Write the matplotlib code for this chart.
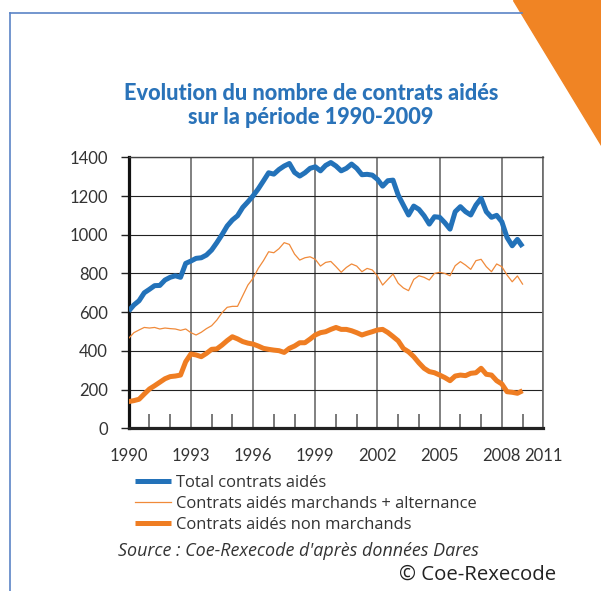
import numpy as np
import matplotlib.pyplot as plt
from matplotlib.lines import Line2D
from matplotlib.patches import Polygon

plt.rcParams['font.family'] = ['Lato', 'DejaVu Sans']

# quarterly values (thousands), 1990 Q1 -> 2009 Q1
total = [606, 637, 659, 700, 718, 737, 738, 766, 780, 788, 780, 852,
         864, 878, 881, 895, 921, 959, 1000, 1045, 1076, 1098, 1141, 1170,
         1201, 1237, 1278, 1320, 1313, 1337, 1355, 1368, 1322, 1303, 1320, 1343,
         1351, 1330, 1358, 1373, 1355, 1330, 1343, 1365, 1343, 1310, 1312, 1308,
         1286, 1251, 1279, 1282, 1205, 1153, 1102, 1148, 1131, 1098, 1055, 1093,
         1090, 1062, 1029, 1119, 1145, 1119, 1102, 1153, 1188, 1119, 1090, 1100,
         1067, 986, 943, 976, 938]
marchands = [465, 494, 508, 521, 518, 521, 513, 518, 515, 513, 506, 513,
             494, 482, 496, 515, 530, 559, 597, 625, 630, 630, 685, 740,
             775, 826, 866, 912, 907, 928, 959, 950, 900, 869, 881, 886,
             873, 838, 857, 862, 835, 806, 831, 849, 838, 809, 826, 818,
             787, 740, 769, 797, 749, 725, 711, 769, 788, 780, 766, 800,
             806, 800, 788, 840, 861, 843, 821, 866, 873, 835, 809, 849,
             835, 792, 757, 787, 745]
non_marchands = [138, 143, 150, 177, 203, 220, 238, 256, 267, 270, 275, 344,
                 384, 379, 370, 387, 408, 410, 430, 453, 473, 462, 448, 440,
                 435, 425, 413, 408, 404, 401, 392, 413, 425, 442, 442, 461,
                 482, 494, 499, 511, 521, 511, 511, 504, 494, 482, 491, 499,
                 508, 511, 495, 474, 452, 412, 395, 370, 338, 310, 293, 287,
                 275, 262, 246, 270, 275, 272, 284, 287, 310, 279, 275, 246,
                 229, 189, 186, 181, 194]
quarters = 1990 + np.arange(len(total)) / 4

tick_years = [1990, 1993, 1996, 1999, 2002, 2005, 2008, 2010]
tick_labels = ['1990', '1993', '1996', '1999', '2002', '2005', '2008', '2011']
series_labels = ['Total contrats aidés',
                 'Contrats aidés marchands + alternance',
                 'Contrats aidés non marchands']

W, H = 601, 591
def fx(px):
    return px / W
def fy(py):
    return 1 - py / H

blue = '#2372b9'
orange = '#ef7d22'
text_font = ['Open Sans', 'DejaVu Sans']

fig = plt.figure(figsize=(6.01, 5.91), dpi=100)

# frame decoration
fig.add_artist(Line2D([fx(10), fx(10)], [fy(13), fy(591)], color='#5b84c6', lw=1.2, transform=fig.transFigure))
fig.add_artist(Line2D([fx(10), fx(522)], [fy(13), fy(13)], color='#5b84c6', lw=1.2, transform=fig.transFigure))
fig.add_artist(Polygon([(fx(513), fy(0)), (fx(601), fy(0)), (fx(601), fy(145))],
                       closed=True, color='#f08424', transform=fig.transFigure))

ax = fig.add_axes([fx(128.7), fy(428.3), fx(543.3) - fx(128.7), fy(157.3) - fy(428.3)])

l1, = ax.plot(quarters, total, color=blue, lw=3.6, solid_capstyle='butt', zorder=4)
l2, = ax.plot(quarters, marchands, color='#f08a3a', lw=0.9, zorder=3)
l3, = ax.plot(quarters, non_marchands, color=orange, lw=3.6, solid_capstyle='butt', zorder=4)

ax.set_xlim(1990, 2010)
ax.set_ylim(0, 1400)
ax.set_xticks(tick_years)
ax.set_xticklabels(tick_labels)
ax.set_xticks(range(1991, 2010), minor=True)
ax.set_yticks(range(0, 1401, 200))

ax.set_axisbelow(True)
ax.yaxis.grid(True, color='#222222', lw=0.8)
ax.xaxis.grid(True, color='#5e5e5e', lw=1.1)

ax.tick_params(axis='x', which='major', length=0, pad=14, labelsize=12, labelcolor='#333333')
ax.tick_params(axis='x', which='minor', direction='in', length=10, width=1.1, color='#555555')
ax.tick_params(axis='y', length=6, width=1, color='#222222', pad=9, labelsize=12, labelcolor='#333333')

ax.spines['left'].set_linewidth(2.3)
ax.spines['left'].set_color('#111111')
ax.spines['bottom'].set_linewidth(2.3)
ax.spines['bottom'].set_color('#222222')
ax.spines['right'].set_linewidth(1.2)
ax.spines['right'].set_color('#6a6a6a')
ax.spines['top'].set_linewidth(1.0)
ax.spines['top'].set_color('#444444')

fig.text(fx(311), fy(93), 'Evolution du nombre de contrats aidés', ha='center', va='center',
         fontsize=15.7, fontweight='black', color='#2a73b9')
fig.text(fx(311), fy(118), 'sur la période 1990-2009', ha='center', va='center',
         fontsize=15.7, fontweight='black', color='#2a73b9')

fig.legend([l1, l2, l3], series_labels, loc='upper left', bbox_to_anchor=(fx(135), fy(475)),
           frameon=False, borderpad=0, borderaxespad=0, handlelength=2.15, handletextpad=0.35,
           labelspacing=0.3, prop={'family': text_font, 'size': 11.9}, labelcolor='#333333')

fig.text(fx(118), fy(551), "Source : Coe-Rexecode d'après données Dares", ha='left', va='center',
         fontsize=12.9, style='italic', color='#333333', family=text_font)
fig.text(fx(556), fy(575), '© Coe-Rexecode', ha='right', va='center', fontsize=14.7,
         color='#222222', family=text_font)

fig.savefig('out.png', dpi=100)
